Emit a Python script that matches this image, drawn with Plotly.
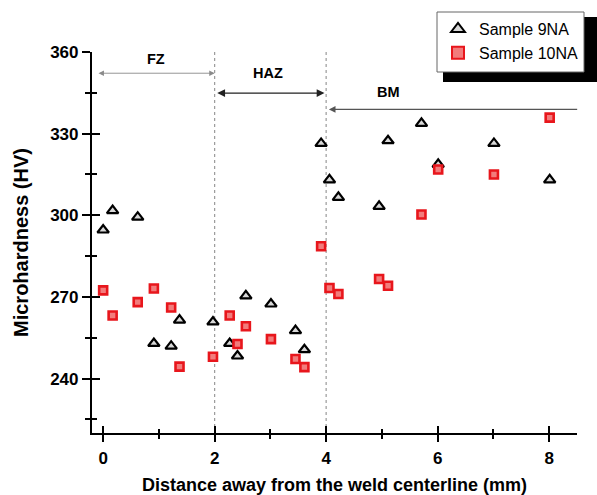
import plotly.graph_objects as go

distance = [0.0, 0.17, 0.62, 0.91, 1.22, 1.37, 1.97, 2.27, 2.41, 2.56, 3.01,
            3.45, 3.61, 3.91, 4.06, 4.22, 4.95, 5.11, 5.71, 6.01, 7.01, 8.01]
hv_9na = [294.6, 301.7, 299.3, 252.9, 251.9, 261.5, 260.8, 252.9, 248.3, 270.4, 267.4,
          257.6, 250.6, 326.4, 313.0, 306.6, 303.3, 327.4, 333.8, 318.7, 326.4, 313.0]
hv_10na = [272.4, 263.2, 268.1, 273.1, 266.1, 244.4, 248.0, 263.2, 252.7, 259.2, 254.5,
           247.2, 244.2, 288.6, 273.3, 271.1, 276.6, 274.1, 300.3, 316.8, 315.0, 335.9]
series_names = ["Sample 9NA", "Sample 10NA"]
zone_bounds = [2, 4]
zone_labels = ["FZ", "HAZ", "BM"]
x_ticks = [0, 2, 4, 6, 8]
y_ticks = [240, 270, 300, 330, 360]

FONT = "Liberation Sans, Arial, sans-serif"
XR = [-0.2, 8.5]
YR = [220, 360]

# plot-area geometry in pixels (used for paper-coordinate placement)
L, R, T, B = 92, 20, 52, 62
W, H = 597, 495
PW, PH = W - L - R, H - T - B


def px_x(px):
    return (px - L) / PW


def px_y(py):
    return (H - B - py) / PH


fig = go.Figure()
fig.add_trace(go.Scatter(
    x=distance, y=hv_9na, mode="markers", name=series_names[0],
    marker=dict(symbol="triangle-up", size=10, color="#d8d8d8",
                line=dict(color="black", width=2.2))))
fig.add_trace(go.Scatter(
    x=distance, y=hv_10na, mode="markers", name=series_names[1],
    marker=dict(symbol="square", size=8, color="#f27c7c",
                line=dict(color="#e8161c", width=2.6))))

# dotted zone boundaries
for b in zone_bounds:
    fig.add_shape(type="line", x0=b, x1=b, y0=YR[0], y1=YR[1], xref="x", yref="y",
                  line=dict(color="#9a9a9a", width=1.2, dash="dot"), layer="below")

# zone arrows
arrows = [
    dict(x=zone_bounds[0], ax=-0.11, y=352.2, color="#8a8a8a", w=0.9, side="end+start"),
    dict(x=zone_bounds[1] - 0.03, ax=zone_bounds[0] + 0.02, y=344.9, color="#222222", w=1.3, side="end+start"),
    dict(x=zone_bounds[1] + 0.05, ax=8.53, y=338.9, color="#555555", w=1.1, side="end"),
]
for a in arrows:
    fig.add_annotation(x=a["x"], y=a["y"], ax=a["ax"], ay=a["y"], xref="x", yref="y",
                       axref="x", ayref="y", text="", showarrow=True, arrowhead=2,
                       arrowsize=1.2, arrowwidth=a["w"], arrowcolor=a["color"],
                       arrowside=a["side"])

label_pos = [(0.94, 49), (2.96, 63), (5.12, 82)]
for lab, (lx, ly) in zip(zone_labels, label_pos):
    fig.add_annotation(x=lx, y=px_y(ly), xref="x", yref="paper", text="<b>%s</b>" % lab,
                       showarrow=False, font=dict(family=FONT, size=14.5, color="black"))

# legend frame with drop shadow (drawn as shapes behind a transparent legend)
LEG_L, LEG_T, LEG_W, LEG_H = 437, 12, 147, 60
fig.add_shape(type="rect", xref="paper", yref="paper",
              x0=px_x(LEG_L + 6), x1=px_x(W + 5),
              y0=px_y(LEG_T + LEG_H + 10), y1=px_y(LEG_T + 5),
              fillcolor="black", line=dict(width=0), layer="above")
fig.add_shape(type="rect", xref="paper", yref="paper",
              x0=px_x(LEG_L), x1=px_x(LEG_L + LEG_W),
              y0=px_y(LEG_T + LEG_H), y1=px_y(LEG_T),
              fillcolor="white", line=dict(color="#666666", width=1), layer="above")

axis_common = dict(showline=True, linecolor="black", linewidth=2.2, showgrid=False,
                   zeroline=False, tickcolor="black", tickwidth=2, automargin=False)

fig.update_layout(
    width=W, height=H,
    margin=dict(l=L, r=R, t=T, b=B),
    plot_bgcolor="white", paper_bgcolor="white",
    font=dict(family=FONT, color="black"),
    showlegend=True,
    legend=dict(x=px_x(LEG_L), y=px_y(LEG_T), xanchor="left", yanchor="top",
                bgcolor="rgba(0,0,0,0)", borderwidth=0,
                font=dict(family=FONT, size=16, color="black"),
                itemsizing="constant", tracegroupgap=0, itemwidth=32),
    xaxis=dict(range=XR, tickvals=x_ticks, ticks="outside", ticklen=7, ticklabelstandoff=1,
               tickfont=dict(family=FONT, size=17, color="black", weight="bold"),
               minor=dict(dtick=1, tick0=0, ticks="outside", ticklen=4, tickcolor="black", tickwidth=2),
               title=dict(text="<b>Distance away from the weld centerline (mm)</b>",
                          font=dict(family=FONT, size=18, color="black"), standoff=19),
               **axis_common),
    yaxis=dict(range=YR, tickvals=y_ticks, ticks="outside", ticklen=8,
               tickfont=dict(family=FONT, size=17, color="black", weight="bold"),
               minor=dict(dtick=30, tick0=225, ticks="outside", ticklen=5, tickcolor="black", tickwidth=2),
               title=dict(text="<b>Microhardness (HV)</b>",
                          font=dict(family=FONT, size=20, color="black"), standoff=16),
               **axis_common),
    xaxis2=dict(range=XR, overlaying="x", anchor="y", side="bottom", tickvals=x_ticks,
                ticks="inside", ticklen=7, showticklabels=False,
                minor=dict(dtick=1, tick0=0, ticks="inside", ticklen=4, tickcolor="black", tickwidth=2),
                **axis_common),
    yaxis2=dict(range=YR, overlaying="y", anchor="x", side="left", tickvals=y_ticks,
                ticks="inside", ticklen=8, showticklabels=False,
                minor=dict(dtick=30, tick0=225, ticks="inside", ticklen=5, tickcolor="black", tickwidth=2),
                **axis_common),
)
# dummy trace to activate overlay axes
fig.add_trace(go.Scatter(x=[None], y=[None], xaxis="x2", yaxis="y2", showlegend=False,
                         hoverinfo="skip"))

fig.write_html("out.html")
